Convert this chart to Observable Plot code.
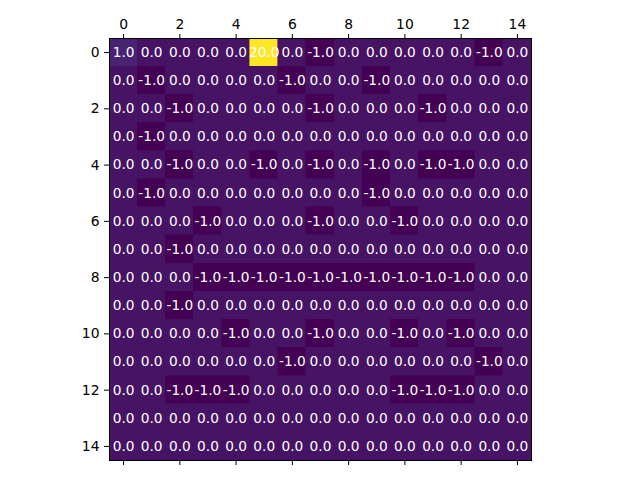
<!DOCTYPE html>
<html>
<head>
<meta charset="utf-8">
<script src="https://cdn.jsdelivr.net/npm/d3@7"></script>
<script src="https://cdn.jsdelivr.net/npm/@observablehq/plot@0.6"></script>
<style>
  html, body { margin: 0; padding: 0; background: white; }
  svg { font-family: "DejaVu Sans", sans-serif; }
</style>
</head>
<body>
<div id="chart"></div>
<script>
const matrix = [
  [1,0,0,0,0,20,0,-1,0,0,0,0,0,-1,0],
  [0,-1,0,0,0,0,-1,0,0,-1,0,0,0,0,0],
  [0,0,-1,0,0,0,0,-1,0,0,0,-1,0,0,0],
  [0,-1,0,0,0,0,0,0,0,0,0,0,0,0,0],
  [0,0,-1,0,0,-1,0,-1,0,-1,0,-1,-1,0,0],
  [0,-1,0,0,0,0,0,0,0,-1,0,0,0,0,0],
  [0,0,0,-1,0,0,0,-1,0,0,-1,0,0,0,0],
  [0,0,-1,0,0,0,0,0,0,0,0,0,0,0,0],
  [0,0,0,-1,-1,-1,-1,-1,-1,-1,-1,-1,-1,0,0],
  [0,0,-1,0,0,0,0,0,0,0,0,0,0,0,0],
  [0,0,0,0,-1,0,0,-1,0,0,-1,0,-1,0,0],
  [0,0,0,0,0,0,-1,0,0,0,0,0,0,-1,0],
  [0,0,-1,-1,-1,0,0,0,0,0,-1,-1,-1,0,0],
  [0,0,0,0,0,0,0,0,0,0,0,0,0,0,0],
  [0,0,0,0,0,0,0,0,0,0,0,0,0,0,0]
];
const tickValues = [0,2,4,6,8,10,12,14];

const cells = [];
matrix.forEach((row, r) => row.forEach((v, c) => cells.push({row: r, col: c, v})));

const fs = "13.9px";
const marks = [
  Plot.rect(cells, {
    x1: d => d.col - 0.5, x2: d => d.col + 0.5,
    y1: d => d.row - 0.5, y2: d => d.row + 0.5,
    fill: "v", stroke: "v", strokeWidth: 0.6, inset: 0, shapeRendering: "crispEdges"
  }),
  Plot.text(cells, {
    x: "col", y: "row", text: d => d.v.toFixed(1),
    fill: "white", fontSize: 13.7, fontFamily: "DejaVu Sans"
  }),
  Plot.frame({stroke: "black", strokeWidth: 1})
];

let xOpts, yOpts;
if (Plot.axisX) {
  marks.push(
    Plot.axisX(tickValues, {anchor: "top", tickSize: 5, tickPadding: 5, fontSize: 13.9, label: null, stroke: "black", fill: "black"}),
    Plot.axisX(tickValues, {anchor: "bottom", tickSize: 5, tickFormat: () => "", label: null, stroke: "black"}),
    Plot.axisY(tickValues, {anchor: "left", tickSize: 5, tickPadding: 5, fontSize: 13.9, label: null, stroke: "black", fill: "black"})
  );
  xOpts = {domain: [-0.5, 14.5], axis: null};
  yOpts = {domain: [-0.5, 14.5], reverse: true, axis: null};
} else {
  xOpts = {domain: [-0.5, 14.5], axis: "top", ticks: tickValues, tickSize: 5, label: null};
  yOpts = {domain: [-0.5, 14.5], reverse: true, ticks: tickValues, tickSize: 5, label: null};
}

const chart = Plot.plot({
  width: 640,
  height: 480,
  marginLeft: 109,
  marginRight: 109,
  marginTop: 38,
  marginBottom: 20,
  style: {fontFamily: "DejaVu Sans", fontSize: fs, background: "white", color: "black"},
  x: xOpts,
  y: yOpts,
  color: {type: "linear", scheme: "viridis", domain: [-1, 20]},
  marks
});
document.getElementById("chart").appendChild(chart);
</script>
</body>
</html>
